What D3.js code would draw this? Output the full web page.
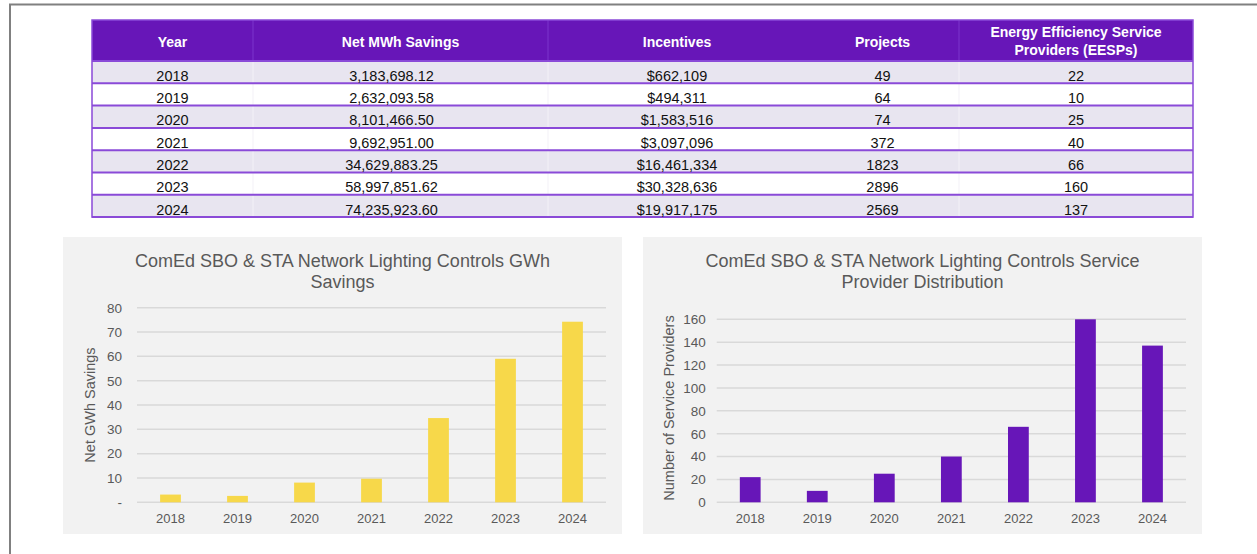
<!DOCTYPE html>
<html>
<head>
<meta charset="utf-8">
<script src="https://cdn.jsdelivr.net/npm/d3@7/dist/d3.min.js"></script>
<style>
  html, body { margin: 0; padding: 0; background: #fff; }
  svg { display: block; font-family: "Liberation Sans", Arial, sans-serif; }
</style>
</head>
<body>
<div id="chart"></div>
<script>
// table + chart data
const years = ["2018", "2019", "2020", "2021", "2022", "2023", "2024"];
const netMWh = [3183698.12, 2632093.58, 8101466.50, 9692951.00, 34629883.25, 58997851.62, 74235923.60];
const incentives = [662109, 494311, 1583516, 3097096, 16461334, 30328636, 19917175];
const projects = [49, 64, 74, 372, 1823, 2896, 2569];
const eesps = [22, 10, 25, 40, 66, 160, 137];
const gwhSavings = [3.18, 2.63, 8.10, 9.69, 34.63, 59.00, 74.24];
const gwhTicks = [0, 10, 20, 30, 40, 50, 60, 70, 80];
const providerTicks = [0, 20, 40, 60, 80, 100, 120, 140, 160];
const headers = [["Year"], ["Net MWh Savings"], ["Incentives"], ["Projects"], ["Energy Efficiency Service", "Providers (EESPs)"]];

(function () {
    const W = 1257, H = 554;
    const purple = "#6716b8", rowLine = "#8a4ad8", lav = "#e8e5f0";
    const grey = "#595959";

    const svg = d3.select("#chart").append("svg").attr("width", W).attr("height", H);

    // outer frame (only top + left visible)
    svg.append("path").attr("d", `M10,${H} L10,4.5 L${W},4.5`)
        .attr("fill", "none").attr("stroke", "#808080").attr("stroke-width", 2);

    // ---- table ----
    const t = { x: 92, y: 20, w: 1101, hh: 41, rh: 22.3 };
    const colEdges = [92, 253, 548, 806, 959, 1193];
    const cx = i => (colEdges[i] + colEdges[i + 1]) / 2;
    const tbl = svg.append("g");

    tbl.append("rect").attr("x", t.x).attr("y", t.y).attr("width", t.w).attr("height", t.hh).attr("fill", purple);

    const rows = years.map((y, i) => [y, d3.format(",.2f")(netMWh[i]), d3.format("$,")(incentives[i]),
        String(projects[i]), String(eesps[i])]);

    const ry = i => t.y + t.hh + i * t.rh;

    tbl.selectAll("rect.row").data(rows).enter().append("rect")
        .attr("class", "row")
        .attr("x", t.x).attr("y", (d, i) => ry(i))
        .attr("width", t.w).attr("height", t.rh)
        .attr("fill", (d, i) => i % 2 === 0 ? lav : "#fff");

    // column separators
    [1, 2, 4].forEach(c => {
        tbl.append("line").attr("x1", colEdges[c]).attr("x2", colEdges[c])
            .attr("y1", t.y).attr("y2", t.y + t.hh).attr("stroke", "#7c34cc").attr("stroke-width", 1);
        tbl.append("line").attr("x1", colEdges[c]).attr("x2", colEdges[c])
            .attr("y1", t.y + t.hh).attr("y2", ry(7)).attr("stroke", "#f3f1f7").attr("stroke-width", 1);
    });

    // row lines
    tbl.selectAll("line.rl").data(d3.range(8)).enter().append("line")
        .attr("class", "rl")
        .attr("x1", t.x).attr("x2", t.x + t.w)
        .attr("y1", i => ry(i)).attr("y2", i => ry(i))
        .attr("stroke", rowLine).attr("stroke-width", 2);

    tbl.append("rect").attr("x", t.x).attr("y", t.y).attr("width", t.w).attr("height", ry(7) - t.y)
        .attr("fill", "none").attr("stroke", rowLine).attr("stroke-width", 1.5);

    // header text
    headers.forEach((lines, c) => {
        const y0 = lines.length === 1 ? 46.5 : 37;
        lines.forEach((s, k) => {
            tbl.append("text").attr("x", cx(c)).attr("y", y0 + k * 18)
                .attr("text-anchor", "middle").attr("fill", "#fff")
                .attr("font-weight", "bold").attr("font-size", 14).text(s);
        });
    });

    // body text
    const dxs = [0, -9, 0, 0, 0];
    rows.forEach((r, i) => {
        r.forEach((s, c) => {
            tbl.append("text").attr("x", cx(c) + dxs[c]).attr("y", ry(i) + t.rh - 2.5)
                .attr("text-anchor", "middle").attr("fill", "#111")
                .attr("font-size", 14.5).text(s);
        });
    });

    // ---- bar charts ----
    function barChart(o) {
        const g = svg.append("g");
        g.append("rect").attr("x", o.px).attr("y", 237).attr("width", o.pw).attr("height", 297).attr("fill", "#f2f2f2");

        o.title.forEach((s, k) => {
            g.append("text").attr("x", o.px + o.pw / 2).attr("y", 267 + k * 20.5)
                .attr("text-anchor", "middle").attr("fill", grey).attr("font-size", 18).text(s);
        });

        const x = d3.scaleBand().domain(years).range([o.x0, o.x1]).paddingInner(0.69).paddingOuter(0.345);
        const y = d3.scaleLinear().domain([0, o.max]).range([502.3, o.yTop]);

        g.append("g").selectAll("line").data(o.ticks).enter().append("line")
            .attr("x1", o.x0).attr("x2", o.x1)
            .attr("y1", d => y(d)).attr("y2", d => y(d))
            .attr("stroke", "#d9d9d9").attr("stroke-width", 1.5);

        const ya = g.append("g").attr("transform", `translate(${o.x0},0)`)
            .call(d3.axisLeft(y).tickValues(o.ticks).tickSize(0).tickPadding(o.tickPad).tickFormat(o.fmt));
        ya.select(".domain").remove();
        ya.selectAll("text").attr("fill", grey).attr("font-size", 13.5).attr("font-family", "Liberation Sans, Arial, sans-serif");

        const xa = g.append("g").attr("transform", "translate(0,502.3)")
            .call(d3.axisBottom(x).tickSize(0).tickPadding(11));
        xa.select(".domain").remove();
        xa.selectAll("text").attr("fill", grey).attr("font-size", 13).attr("font-family", "Liberation Sans, Arial, sans-serif");

        g.selectAll("rect.bar").data(o.values).enter().append("rect")
            .attr("class", "bar")
            .attr("x", (d, i) => x(years[i])).attr("width", x.bandwidth())
            .attr("y", d => y(d)).attr("height", d => y(0) - y(d))
            .attr("fill", o.color);

        g.append("text")
            .attr("transform", `translate(${o.tx},${o.ty}) rotate(-90)`)
            .attr("text-anchor", "middle").attr("dominant-baseline", "middle")
            .attr("fill", grey).attr("font-size", 14.5).text(o.yTitle);
    }

    barChart({
        px: 63, pw: 559, x0: 137, x1: 606, yTop: 307.7, max: 80, ticks: gwhTicks,
        values: gwhSavings, color: "#f7d84a", tickPad: 15,
        fmt: d => d === 0 ? "-" : d,
        title: ["ComEd SBO & STA Network Lighting Controls GWh", "Savings"],
        yTitle: "Net GWh Savings", tx: 91, ty: 405
    });

    barChart({
        px: 643, pw: 559, x0: 716.7, x1: 1186, yTop: 319.3, max: 160, ticks: providerTicks,
        values: eesps, color: "#6716b8", tickPad: 11,
        fmt: d => d,
        title: ["ComEd SBO & STA Network Lighting Controls Service", "Provider Distribution"],
        yTitle: "Number of Service Providers", tx: 670, ty: 408
    });
})();
</script>
</body>
</html>
